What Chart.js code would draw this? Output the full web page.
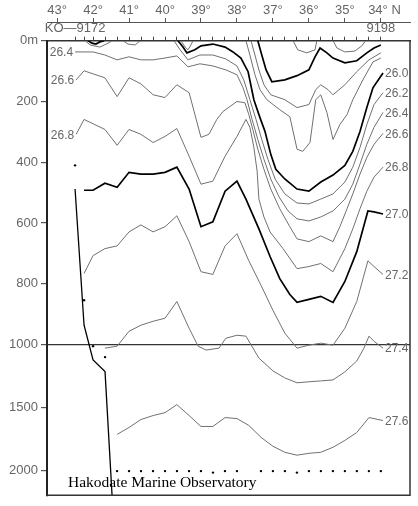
<!DOCTYPE html>
<html><head><meta charset="utf-8">
<script src="https://cdn.jsdelivr.net/npm/chart.js@4.4.1/dist/chart.umd.min.js"></script>
<style>html,body{margin:0;padding:0;background:#fff;}</style>
</head><body>
<canvas id="c" width="418" height="506"></canvas>
<script>
// ---- axes / categories ----
const stationLats = [42.5,42.25,42.0,41.667,41.333,41.0,40.667,40.333,40.0,39.667,39.333,39.0,38.667,38.333,38.0,37.667,37.333,37.0,36.667,36.333,36.0,35.667,35.333,35.0,34.667,34.333,34.0];
const stationLabels = ['KO\u20149172','9198'];
const latTicks = [43,42,41,40,39,38,37,36,35,34];
const depthTicks = [0,200,400,600,800,1000,1500,2000];
const depthLabels = ['0m','200','400','600','800','1000','1500','2000'];

// ---- contours [lat, depth m] ----
const c264 = [[42.50,37],[42.25,37],[42.00,37],[41.67,47],[41.33,63],[41.00,53],[40.67,63],[40.33,63],[40.00,57],[39.67,50],[39.36,86],[39.03,76],[38.67,83],[38.31,96],[38.00,112],[37.83,155],[37.72,194],[37.58,259],[37.42,325],[37.25,390],[37.06,455],[36.83,514],[36.58,560],[36.33,586],[36.00,593],[35.67,580],[35.33,560],[35.00,521],[34.78,472],[34.58,406],[34.39,341],[34.19,285],[33.94,236]];
const c262 = [[39.75,0],[39.58,30],[39.36,63],[39.03,47],[38.67,47],[38.31,60],[38.00,83],[37.81,129],[37.64,194],[37.47,259],[37.31,325],[37.14,390],[36.94,455],[36.67,504],[36.33,534],[36.00,537],[35.67,521],[35.33,504],[35.00,465],[34.78,416],[34.58,351],[34.39,276],[34.19,210],[33.94,171]];
const c260 = [[39.64,0],[39.50,21],[39.39,40],[39.17,30],[39.00,17],[38.67,11],[38.33,21],[38.11,37],[37.89,57],[37.69,102],[37.53,194],[37.36,253],[37.22,299],[37.06,374],[36.92,423],[36.67,455],[36.33,488],[36.00,495],[35.67,465],[35.33,442],[35.00,410],[34.78,364],[34.58,299],[34.39,220],[34.22,155],[33.94,106]];
const c266 = [[42.47,129],[42.25,99],[42.00,109],[41.67,122],[41.33,184],[41.00,122],[40.67,142],[40.33,178],[40.00,187],[39.67,145],[39.33,171],[39.00,318],[38.78,308],[38.56,259],[38.39,233],[38.00,200],[37.78,204],[37.67,243],[37.56,292],[37.42,357],[37.25,423],[37.06,488],[36.81,553],[36.53,612],[36.33,652],[36.00,661],[35.67,642],[35.33,661],[35.14,612],[34.94,553],[34.78,504],[34.58,439],[34.39,384],[34.19,341],[33.94,305]];
const c268 = [[42.47,308],[42.25,259],[41.67,292],[41.33,344],[41.00,292],[40.67,308],[40.33,335],[40.00,315],[39.67,289],[39.33,380],[39.00,472],[38.67,462],[38.33,380],[38.00,315],[37.75,259],[37.64,285],[37.53,351],[37.44,429],[37.39,521],[37.25,580],[37.08,629],[36.72,684],[36.33,750],[36.00,743],[35.67,733],[35.33,760],[35.00,684],[34.78,619],[34.58,553],[34.39,495],[34.19,449],[33.94,416]];
const c270 = [[42.25,492],[42.00,492],[41.67,469],[41.33,482],[41.00,433],[40.67,439],[40.33,439],[40.00,433],[39.67,416],[39.33,488],[39.00,612],[38.67,596],[38.33,495],[38.00,462],[37.75,521],[37.39,619],[37.08,710],[36.81,783],[36.53,835],[36.33,861],[36.00,851],[35.67,841],[35.33,861],[35.00,792],[34.67,694],[34.36,560],[34.19,563],[33.94,570]];
const c272 = [[42.25,766],[42.00,707],[41.67,684],[41.33,675],[41.00,629],[40.67,606],[40.33,629],[40.00,612],[39.67,576],[39.33,661],[39.00,760],[38.67,769],[38.33,675],[38.00,635],[37.67,724],[37.33,805],[37.00,887],[36.67,962],[36.33,1028],[36.00,1004],[35.67,995],[35.33,1004],[35.00,946],[34.67,858],[34.36,724],[34.19,743],[33.94,769]];
const c274 = [[41.67,1028],[41.33,1012],[41.00,956],[40.67,936],[40.33,923],[40.00,913],[39.67,858],[39.33,946],[39.08,1012],[38.86,1043],[38.50,1028],[38.31,979],[38.00,969],[37.75,972],[37.39,1107],[37.00,1209],[36.67,1265],[36.33,1304],[36.00,1296],[35.67,1289],[35.33,1281],[35.00,1217],[34.67,1130],[34.47,1028],[34.33,972],[34.19,989],[33.94,1028]];
const c276 = [[41.33,1715],[41.00,1660],[40.67,1597],[40.33,1565],[40.00,1542],[39.67,1478],[39.33,1565],[39.00,1652],[38.67,1652],[38.33,1581],[38.00,1589],[37.67,1644],[37.33,1739],[37.00,1810],[36.67,1858],[36.33,1881],[36.00,1866],[35.67,1858],[35.33,1818],[35.00,1763],[34.67,1700],[34.33,1581],[33.94,1605]];
const c258 = [[37.75,0],[37.64,47],[37.50,112],[37.36,161],[37.17,194],[36.81,227],[36.53,250],[36.33,357],[36.17,364],[35.97,335],[35.81,194],[35.67,178],[35.50,236],[35.33,325],[35.14,276],[34.94,243],[34.78,194],[34.50,129],[34.22,70],[34.00,57]];
const c256 = [[37.61,0],[37.50,47],[37.39,96],[37.25,145],[37.06,178],[36.67,194],[36.33,220],[36.00,210],[35.81,161],[35.67,145],[35.47,161],[35.33,178],[35.00,145],[34.67,102],[34.33,63],[34.00,40]];
const c250 = [[37.42,0],[37.31,47],[37.19,96],[37.03,135],[36.67,129],[36.33,115],[36.00,96],[35.83,53],[35.69,24],[35.50,40],[35.33,57],[35.00,73],[34.67,66],[34.39,40],[34.19,24],[34.00,14]];
const s1 = [[42.22,0],[42.08,14],[41.81,21],[41.58,8],[41.47,0]];
const s1b = [[42.14,0],[42.03,8],[41.92,11],[41.81,4],[41.69,0]];
const s2 = [[41.17,0],[41.03,11],[40.83,14],[40.69,0]];
const s3 = [[39.56,0],[39.44,21],[39.36,30],[39.28,14],[39.22,0]];
const s4 = [[36.44,0],[36.31,30],[36.06,40],[35.83,30],[35.78,0]];
const s5 = [[35.33,0],[35.22,24],[35.00,37],[34.72,34],[34.53,17],[34.42,0]];

// ---- bottom / observation ----
const bathy = [[42.5,488],[42.25,936],[42.0,1122],[41.667,1215],[41.46,2260]];
const shelfDots = [[42.5,410],[42.25,854],[42.0,1012],[41.667,1099]];
const deepDotLats = [41.333,41.0,40.667,40.333,40.0,39.667,39.333,39.0,38.667,38.333,38.0,37.333,37.0,36.667,36.333,36.0,35.667,35.333,35.0,34.667,34.333,34.0];
const deepDotDepths = [2008,2008,2008,2008,2008,2008,2008,2008,2020,2008,2008,2008,2008,2008,2020,2008,2008,2008,2008,2008,2008,2008];

const leftLabels = [[c264,'26.4'],[c266,'26.6'],[c268,'26.8']];
const rightLabels = [[c260,'26.0'],[c262,'26.2'],[c264,'26.4'],[c266,'26.6'],[c268,'26.8'],[c270,'27.0'],[c272,'27.2'],[c274,'27.4'],[c276,'27.6']];

// depth transform: 0-1000 m and 1000-2200 m at different scales
const K = 0.4127;
function td(d){ return d <= 1000 ? d : 1000 + (d - 1000) * K; }

const thin = [c264,c262,c266,c268,c272,c274,c276,c258,c256,s1,s2,s3,s4,s5];
const thick = [c260,c270,c250,s1b];
function lineDs(arr, isThick){
  return {data: arr.map(p => ({x:p[0], y:td(p[1])})), showLine:true, borderColor: isThick ? '#000' : '#707070',
    borderWidth: isThick ? 1.7 : 1, pointRadius:0, tension:0, fill:false, clip:0};
}
const datasets = [];
thin.forEach(a => datasets.push(lineDs(a,false)));
thick.forEach(a => datasets.push(lineDs(a,true)));
datasets.push({data: bathy.map(p => ({x:p[0], y:td(p[1])})), showLine:true, borderColor:'#000', borderWidth:1.3, pointRadius:0, tension:0, clip:0});
datasets.push({data: shelfDots.map(p => ({x:p[0], y:td(p[1])})).concat(deepDotLats.map((l,i) => ({x:l, y:td(deepDotDepths[i])}))),
  showLine:false, pointRadius:1.2, pointBackgroundColor:'#000', pointBorderWidth:0, clip:0});

const FONT = 'Liberation Sans';
const labelPlugin = {
  id:'labels',
  afterDatasetsDraw(chart){
    const ctx = chart.ctx, xs = chart.scales.x, ys = chart.scales.y, ca = chart.chartArea;
    ctx.save();
    ctx.font = '12px "' + FONT + '"';
    ctx.fillStyle = '#666';
    ctx.textBaseline = 'middle';
    ctx.textAlign = 'right';
    leftLabels.forEach(([arr,t]) => {
      const p = arr[0];
      ctx.fillText(t, xs.getPixelForValue(p[0]) - 2, ys.getPixelForValue(td(p[1])) + 1);
    });
    ctx.textAlign = 'left';
    rightLabels.forEach(([arr,t]) => {
      const p = arr[arr.length-1];
      ctx.fillText(t, xs.getPixelForValue(p[0]) + 2, ys.getPixelForValue(td(p[1])) + 1);
    });
    // frame right & bottom
    ctx.strokeStyle = '#333'; ctx.lineWidth = 1.5;
    ctx.beginPath();
    ctx.moveTo(ca.right, ca.top); ctx.lineTo(ca.right, ca.bottom); ctx.lineTo(ca.left, ca.bottom);
    ctx.stroke();
    // credit
    ctx.font = '15.5px "Liberation Serif"';
    ctx.fillStyle = '#000';
    ctx.textBaseline = 'alphabetic';
    ctx.fillText('Hakodate Marine Observatory', ca.left + 21, ca.bottom - 8);
    ctx.restore();
  }
};

new Chart(document.getElementById('c'), {
  type:'scatter',
  data:{datasets},
  options:{
    responsive:false, animation:false, devicePixelRatio:1,
    layout:{padding:{left:0, right:8, top:0, bottom:8}},
    plugins:{legend:{display:false}, tooltip:{enabled:false}},
    scales:{
      x:{type:'linear', position:'top', min:33.19, max:43.28, reverse:true, weight:0,
        grid:{drawOnChartArea:false, drawTicks:true, tickLength:4, tickColor:'#444'},
        border:{display:true, color:'#333', width:1.5},
        afterBuildTicks: s => { s.ticks = stationLats.map(v => ({value:v})); },
        afterFit: s => { s.height = 18.7; },
        ticks:{autoSkip:false, maxRotation:0, padding:0, color:'#666', font:{family:FONT, size:13},
          callback:(v,i) => i === 0 ? stationLabels[0] : (i === stationLats.length-1 ? stationLabels[1] : '')}
      },
      x2:{type:'linear', position:'top', min:33.19, max:43.28, reverse:true, weight:10,
        grid:{drawOnChartArea:false, drawTicks:true, tickLength:4, tickColor:'#555'},
        border:{display:true, color:'#555', width:1},
        afterBuildTicks: s => { s.ticks = latTicks.map(v => ({value:v})); },
        afterFit: s => { s.height = 22; },
        ticks:{autoSkip:false, maxRotation:0, padding:0, color:'#666', font:{family:FONT, size:13},
          callback: v => v === 34 ? '  34\u00b0 N' : v + '\u00b0'}
      },
      y:{type:'linear', position:'left', min:0, max:td(2200), reverse:true,
        afterBuildTicks: s => { s.ticks = depthTicks.map(d => ({value:td(d)})); },
        afterFit: s => { s.width = 47; },
        grid:{color: c => (c.tick && c.tick.value === 1000) ? '#333' : 'rgba(0,0,0,0)', lineWidth:1.2, tickColor:'#555', tickLength:6, drawTicks:true},
        border:{display:true, color:'#222', width:2},
        ticks:{autoSkip:false, padding:3, color:'#666', font:{family:FONT, size:13},
          callback:(v,i) => depthLabels[i]}
      }
    }
  },
  plugins:[labelPlugin]
});
</script>
</body></html>
